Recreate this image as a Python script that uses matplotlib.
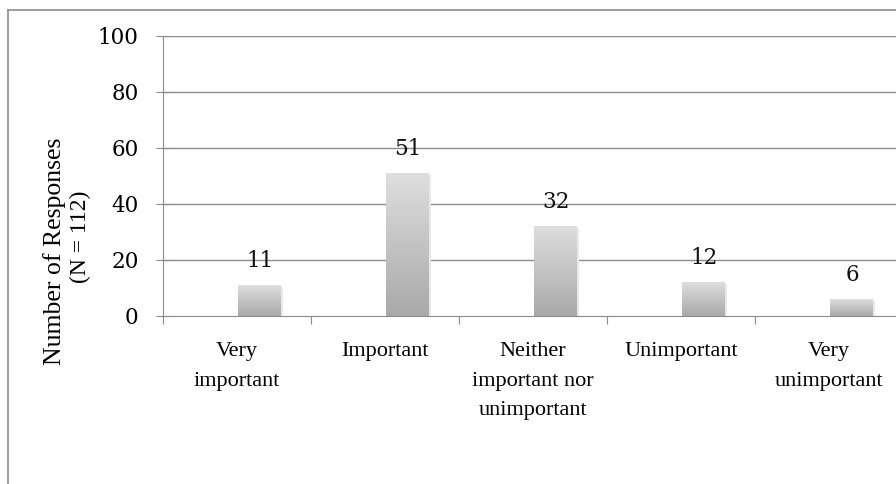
import matplotlib
matplotlib.use("Agg")
import matplotlib.pyplot as plt
import numpy as np
from matplotlib.lines import Line2D
from matplotlib.colors import LinearSegmentedColormap

categories = ["Very\nimportant", "Important", "Neither\nimportant nor\nunimportant",
              "Unimportant", "Very\nunimportant"]
values = [11, 51, 32, 12, 6]
yticks = [0, 20, 40, 60, 80, 100]
ylabel_line1 = "Number of Responses"
ylabel_line2 = "(N = 112)"

plt.rcParams['font.family'] = ['Liberation Serif', 'DejaVu Serif']
W, H = 896, 484
fig = plt.figure(figsize=(W / 100, H / 100), dpi=100)

num_font = ['DejaVu Serif']
left, right, top, bottom = 163, 903, 36, 316
ax = fig.add_axes([left / W, 1 - bottom / H, (right - left) / W, (bottom - top) / H])

grid_c = '#8c8c8c'
for t in yticks[1:]:
    ax.axhline(t, color=grid_c, lw=1.0, zorder=1)

# bars with vertical gradient
offset, bw = 0.655, 0.29
grad = np.linspace(0, 1, 256).reshape(-1, 1)
cmap = LinearSegmentedColormap.from_list('g', ['#a9a9a9', '#dedede'])
for i, v in enumerate(values):
    x0 = i + offset - bw / 2
    ax.bar(i + offset + 0.006, v, width=bw + 0.014, bottom=-0.6, color='#e8e8e8', zorder=2)
    ax.imshow(grad, extent=[x0, x0 + bw, 0, v], origin='lower', cmap=cmap,
              aspect='auto', zorder=3)
    ax.annotate(str(v), (i + offset, v), xytext=(0, 13), textcoords='offset points',
                ha='center', va='baseline', fontsize=15.5, family=num_font,
                color='#111111')
ax.set_xlim(0, len(categories))
ax.set_ylim(0, 100)

for s in ['top', 'right']:
    ax.spines[s].set_visible(False)
ax.spines['left'].set_color(grid_c)
ax.spines['bottom'].set_color(grid_c)

ax.set_yticks(yticks)
ax.set_yticklabels([str(t) for t in yticks], fontsize=15.5, family=num_font)
ax.tick_params(axis='y', direction='inout', length=10, color=grid_c, pad=12.5)

ax.set_xticks(np.arange(0, len(categories) + 1))
ax.set_xticklabels([])
ax.tick_params(axis='x', which='major', direction='out', length=6, color=grid_c)
ax.set_xticks(np.arange(len(categories)) + 0.5, minor=True)
ax.set_xticklabels(categories, minor=True, fontsize=16, linespacing=1.75)
ax.tick_params(axis='x', which='minor', length=0, pad=19)

fig.text(55 / W, 1 - 251 / H, ylabel_line1, rotation=90, ha='center', va='center',
         fontsize=18.5)
fig.text(80 / W, 1 - 237 / H, ylabel_line2, rotation=90, ha='center', va='center',
         fontsize=17)

# outer frame lines
fig.add_artist(Line2D([8 / W, 8 / W], [0, 1 - 10 / H], transform=fig.transFigure,
                      color='#8c8c8c', lw=1.2))
fig.add_artist(Line2D([8 / W, 1], [1 - 10 / H, 1 - 10 / H], transform=fig.transFigure,
                      color='#8c8c8c', lw=1.2))

fig.savefig("out.png", dpi=100)
